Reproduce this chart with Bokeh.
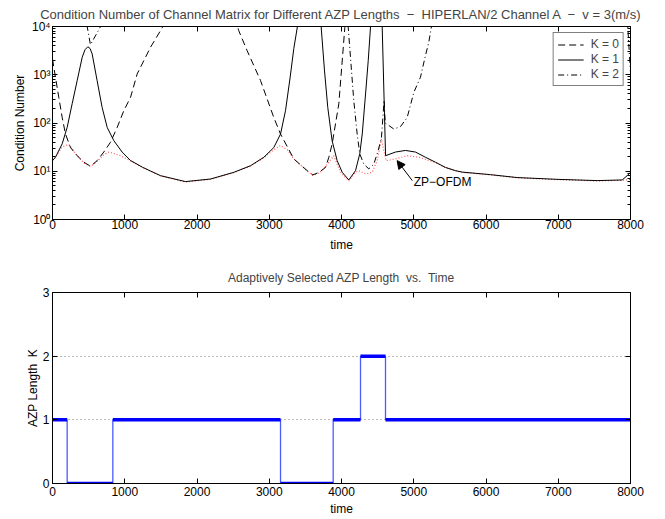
import math
from bokeh.plotting import figure
from bokeh.models import (Range1d, FixedTicker, LinearAxis, LogAxis, Legend, LegendItem,
                          Arrow, NormalHead, Label, CustomJSTickFormatter)
from bokeh.layouts import column
from bokeh.embed import file_html
from bokeh.resources import INLINE

nan = float("nan")
FONT = "Liberation Sans"

# ---------------- data: condition numbers (top plot) ----------------
k0_t = [0, 41, 87, 134, 180, 249, 341, 434, 526, 618, 710, 803, 895, 987, 1080, 1172, 1356, 1520, 1600,
        nan, 2520, 2578, 2694, 2879, 3063, 3156, 3340, 3525, 3603, 3690, 3779, 3825, 3871, 3963, 4046, 4080]
k0_v = [2100, 890, 340, 130, 59, 31, 21, 15.4, 12.7, 16.6, 25, 40, 81, 180, 340, 1040, 3700, 9500, 18000,
        nan, 15000, 8200, 3150, 760, 130, 59, 18, 10.3, 8.4, 9.5, 12, 19.5, 37, 250, 9500, 25000]

k1_t = [0, 41, 134, 203, 272, 341, 411, 450, 489, 520, 549, 618, 687, 757, 849, 964, 1080, 1250, 1495,
        1840, 2187, 2510, 2740, 2925, 3063, 3156, 3225, 3290, 3340, 3390, 3420,
        nan, 3695, 3718, 3765, 3810, 3870, 3940, 4010, 4101, 4194, 4253, 4287, 4333, 4370, 4402, 4430,
        nan, 4560, 4610, 4747, 4885, 5024, 5162, 5300, 5439, 5577, 5670, 6062, 6431, 6985, 7539,
        7885, 7954, 8000]
k1_v = [16.7, 19.5, 37, 81, 250, 750, 2300, 3300, 3800, 3500, 2700, 750, 210, 81, 43, 25, 16.7, 12, 8.1,
        6.1, 6.9, 9.5, 13, 19.5, 31, 59, 180, 900, 3500, 10000, 20000,
        nan, 20000, 10000, 1200, 210, 43, 16.6, 9.5, 6.6, 10.3, 23, 59, 400, 1950, 10000, 20000,
        nan, 15000, 21, 25, 27, 25, 19.5, 15.4, 12, 10.3, 9.6, 8.5, 7.4, 6.8, 6.4,
        6.6, 8.1, 9.5]

k2_t = [465, 480, 525, 560, 620, 680,
        nan, 4080, 4092, 4170, 4217, 4253, 4309, 4378, 4447, 4508, 4553, 4590, 4605, 4655, 4724, 4816,
        4909, 5001, 5093, 5162, 5208, 5245, 5270,
        nan, 7955, 8000]
k2_v = [20000, 10000, 4200, 5200, 7500, 11000,
        nan, 20000, 10000, 290, 59, 23, 14, 11.2, 14, 27, 50, 300, 100, 89, 75, 84,
        130, 430, 890, 2500, 4700, 10000, 16000,
        nan, 15000, 1100]

zp_t = [0, 41, 134, 226, 341, 434, 526, 618, 710, 780, 941, 1080, 1250, 1495, 1840, 2187, 2510, 2740,
        2925, 3063, 3156, 3250, 3340, 3525, 3603, 3700, 3802, 3893, 3986, 4101, 4194, 4240, 4333, 4425,
        4494, 4553, 4585, 4618, 4747, 4909, 5070, 5300, 5439, 5577, 5670, 6062, 6431, 6985, 7539, 7885, 8000]
zp_v = [16.7, 19.5, 32, 36, 21, 15, 12.5, 16, 22, 25, 21, 16.4, 12, 8.0, 6.0, 6.8, 9.4, 12.8,
        19, 28, 34, 28, 18, 10.1, 8.2, 9.3, 14, 21, 9.5, 6.3, 9.5, 10.3, 8.8, 9.5,
        16.6, 47, 27, 16.6, 18, 21, 19.5, 15.2, 11.9, 10.2, 9.5, 8.4, 7.3, 6.7, 6.3, 6.5, 6.8]

legend_labels = ["K = 0", "K = 1", "K = 2"]
annot_text = "ZP\u2212OFDM"
annot_x, annot_y = 5000, 4.3
arrow_from = (4980, 6.4)
arrow_to = (4770, 16.6)

x_ticks = [0, 1000, 2000, 3000, 4000, 5000, 6000, 7000, 8000]
y1_ticks = [1, 10, 100, 1000, 10000]
y1_tick_labels = ["10\u2070", "10\u00b9", "10\u00b2", "10\u00b3", "10\u2074"]
y1_minor = [m * 10 ** d for d in range(4) for m in range(2, 10)]

# ---------------- data: selected AZP length (bottom plot) ----------------
switch_t = [0, 203, 835, 3156, 3885, 4263, 4609, 8000]
k_sel = [1, 0, 1, 0, 1, 2, 1]
y2_ticks = [0, 1, 2, 3]

title1 = ("Condition Number of Channel Matrix for Different AZP Lengths \u00a0\u2212\u00a0 "
          "HIPERLAN/2 Channel A \u00a0\u2212\u00a0 v = 3(m/s)")
title2 = "Adaptively Selected AZP Length \u00a0vs. \u00a0Time"
ylabel2 = "AZP Length \u00a0K"


def style_axis(ax, size="12px"):
    ax.major_label_text_font = FONT
    ax.major_label_text_font_size = size
    ax.major_label_text_color = "black"
    ax.axis_label_text_font = FONT
    ax.axis_label_text_font_size = size
    ax.axis_label_text_font_style = "normal"
    ax.axis_label_text_color = "black"
    ax.axis_line_color = "black"
    ax.major_tick_line_color = "black"
    ax.minor_tick_line_color = "black"
    ax.major_tick_in = 5
    ax.major_tick_out = 0
    ax.minor_tick_in = 3
    ax.minor_tick_out = 0


blank = CustomJSTickFormatter(code="return '';")

# ---------------- top figure ----------------
p1 = figure(width=648, height=258, x_range=Range1d(0, 8000), y_range=Range1d(1, 10000),
            y_axis_type="log", output_backend="svg", toolbar_location=None,
            min_border_left=52, min_border_right=18, min_border_top=26, min_border_bottom=39)
p1.title.text = title1
p1.title.align = "center"
p1.title.text_font = FONT
p1.title.text_font_size = "13px"
p1.title.text_font_style = "normal"
p1.title.standoff = 9
p1.outline_line_color = "black"
p1.xgrid.visible = False
p1.ygrid.visible = False

xt = FixedTicker(ticks=x_ticks, minor_ticks=[])
yt = FixedTicker(ticks=y1_ticks, minor_ticks=y1_minor)
p1.xaxis.ticker = xt
p1.xaxis.axis_label = "time"
p1.xaxis.axis_label_standoff = 6
p1.xaxis.major_label_standoff = 0
p1.yaxis.ticker = yt
p1.yaxis.formatter = CustomJSTickFormatter(args=dict(tv=y1_ticks, tl=y1_tick_labels),
                                           code="const i = tv.indexOf(tick); return i >= 0 ? tl[i] : '';")
p1.yaxis.axis_label = "Condition Number"
p1.yaxis.axis_label_standoff = 2
p1.yaxis.major_label_standoff = 2
for ax in p1.xaxis + p1.yaxis:
    style_axis(ax)
rax1 = LogAxis(ticker=yt, formatter=blank)
tax1 = LinearAxis(ticker=xt, formatter=blank)
style_axis(rax1)
style_axis(tax1)
p1.add_layout(rax1, "right")
p1.add_layout(tax1, "above")

rz = p1.line(zp_t, zp_v, line_color="#ff5a5a", line_width=1.2, line_dash="1 2")
r0 = p1.line(k0_t, k0_v, line_color="black", line_width=1, line_dash="7 4")
r1 = p1.line(k1_t, k1_v, line_color="black", line_width=1)
r2 = p1.line(k2_t, k2_v, line_color="black", line_width=1, line_dash="6 3 1 3")

legend = Legend(items=[LegendItem(label=legend_labels[0], renderers=[r0]),
                       LegendItem(label=legend_labels[1], renderers=[r1]),
                       LegendItem(label=legend_labels[2], renderers=[r2])],
                location="top_right")
legend.border_line_color = "black"
legend.border_line_width = 1
legend.background_fill_color = "white"
legend.background_fill_alpha = 1
legend.label_text_font = FONT
legend.label_text_font_size = "12px"
legend.glyph_width = 26
legend.glyph_height = 13
legend.label_height = 13
legend.spacing = 1
legend.padding = 4
legend.margin = 6
legend.label_standoff = 7
p1.add_layout(legend)

p1.add_layout(Arrow(end=NormalHead(size=8, fill_color="black", line_color="black"),
                    x_start=arrow_from[0], y_start=arrow_from[1], x_end=arrow_to[0], y_end=arrow_to[1],
                    line_color="black", line_width=1))
p1.add_layout(Label(x=annot_x, y=annot_y, text=annot_text, text_font=FONT, text_font_size="12px",
                    text_color="black"))

# ---------------- bottom figure ----------------
p2 = figure(width=648, height=261, x_range=Range1d(0, 8000), y_range=Range1d(0, 3),
            output_backend="svg", toolbar_location=None,
            min_border_left=52, min_border_right=18, min_border_top=34, min_border_bottom=36)
p2.title.text = title2
p2.title.align = "center"
p2.title.text_font = FONT
p2.title.text_font_size = "12px"
p2.title.text_font_style = "normal"
p2.title.standoff = 16
p2.outline_line_color = "black"
p2.xgrid.visible = False
yt2 = FixedTicker(ticks=y2_ticks, minor_ticks=[])
p2.ygrid.ticker = FixedTicker(ticks=[1, 2])
p2.ygrid.grid_line_color = "#777777"
p2.ygrid.grid_line_dash = "1 3"
p2.ygrid.grid_line_width = 1
p2.xaxis.ticker = xt
p2.xaxis.axis_label = "time"
p2.xaxis.axis_label_standoff = 3
p2.xaxis.major_label_standoff = 3
p2.yaxis.ticker = yt2
p2.yaxis.axis_label = ylabel2
p2.yaxis.axis_label_standoff = 0
p2.yaxis.major_label_standoff = 3
for ax in p2.xaxis + p2.yaxis:
    style_axis(ax)
rax2 = LinearAxis(ticker=yt2, formatter=blank)
tax2 = LinearAxis(ticker=xt, formatter=blank)
style_axis(rax2)
style_axis(tax2)
p2.add_layout(rax2, "right")
p2.add_layout(tax2, "above")

p2.step(switch_t, k_sel + [k_sel[-1]], mode="after", line_color="#4a5cff", line_width=1.3)
p2.segment(x0=switch_t[:-1], y0=k_sel, x1=switch_t[1:], y1=k_sel, line_color="#0000ff", line_width=3.5)

layout = column(p1, p2)
open("out.html", "w").write(file_html(layout, INLINE))
